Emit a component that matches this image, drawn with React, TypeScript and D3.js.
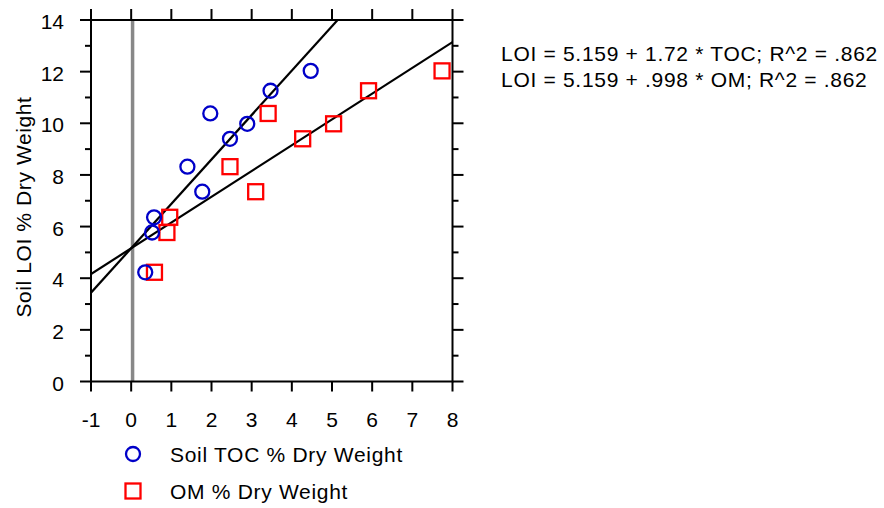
import React from 'react';
import * as d3 from 'd3';

// soil samples
const tocValues = [0.35, 0.52, 0.57, 1.4, 1.77, 1.97, 2.46, 2.89, 3.47, 4.47];
const omValues = [0.58, 0.89, 0.96, 2.46, 3.1, 3.41, 4.27, 5.04, 5.91, 7.74];
const loiValues = [4.23, 5.77, 6.36, 8.32, 7.35, 10.38, 9.4, 9.98, 11.26, 12.03];

const intercept = 5.159;
const tocSlope = 1.72;
const omSlope = 0.998;
const zeroLineX = 0.035;

const xTicks = [-1, 0, 1, 2, 3, 4, 5, 6, 7, 8];
const yTicks = [0, 2, 4, 6, 8, 10, 12, 14];
const yMinorTicks = [1, 3, 5, 7, 9, 11, 13];

const equations = [
  'LOI = 5.159 + 1.72 * TOC; R^2 = .862',
  'LOI = 5.159 + .998 * OM; R^2 = .862',
];
const legendLabels = ['Soil TOC % Dry Weight', 'OM % Dry Weight'];

const W = 884, H = 508;
const left = 91, right = 452.5, top = 20, bottom = 381.5;
const BLUE = '#0000c8';
const RED = '#ff0000';
const FONT = '"Liberation Sans", Arial, sans-serif';

export default function App() {
  const x = d3.scaleLinear().domain([-1, 8]).range([left, right]);
  const y = d3.scaleLinear().domain([0, 14]).range([bottom, top]);

  const fitLine = (slope: number) => {
    const xs = [-1, 8];
    return d3.line<number>()
      .x(v => x(v))
      .y(v => y(intercept + slope * v))(xs) as string;
  };

  return (
    <svg width={W} height={H} style={{ position: 'absolute', left: 0, top: 0, background: '#fff' }}
      fontFamily={FONT}>
      <defs>
        <clipPath id="plot-clip">
          <rect x={left} y={top} width={right - left} height={bottom - top} />
        </clipPath>
      </defs>

      {/* zero line */}
      <line x1={x(zeroLineX)} x2={x(zeroLineX)} y1={top} y2={bottom} stroke="#888" strokeWidth={3.5} />

      {/* regression lines */}
      <g clipPath="url(#plot-clip)" fill="none" stroke="#000" strokeWidth={2.2}>
        <path d={fitLine(tocSlope)} />
        <path d={fitLine(omSlope)} />
      </g>

      {/* OM squares */}
      {omValues.map((v, i) => (
        <rect key={'s' + i} x={x(v) - 7.5} y={y(loiValues[i]) - 7.5} width={15} height={15}
          fill="none" stroke={RED} strokeWidth={2.3} />
      ))}
      {/* TOC circles */}
      {tocValues.map((v, i) => (
        <circle key={'c' + i} cx={x(v)} cy={y(loiValues[i])} r={7}
          fill="none" stroke={BLUE} strokeWidth={2.3} />
      ))}

      {/* frame */}
      <rect x={left} y={top} width={right - left} height={bottom - top} fill="none" stroke="#000" strokeWidth={2} />

      {/* ticks */}
      <g stroke="#000" strokeWidth={2}>
        {xTicks.map(t => (
          <g key={'xt' + t}>
            <line x1={x(t)} x2={x(t)} y1={bottom} y2={bottom + 10} />
            <line x1={x(t)} x2={x(t)} y1={top} y2={top - 11} />
          </g>
        ))}
        {yTicks.map(t => (
          <g key={'yt' + t}>
            <line x1={left - 11} x2={left} y1={y(t)} y2={y(t)} />
            <line x1={right} x2={right + 11} y1={y(t)} y2={y(t)} />
          </g>
        ))}
        {yMinorTicks.map(t => (
          <g key={'ym' + t}>
            <line x1={left - 6} x2={left} y1={y(t)} y2={y(t)} />
            <line x1={right} x2={right + 6} y1={y(t)} y2={y(t)} />
          </g>
        ))}
      </g>

      {/* tick labels */}
      <g fontSize={21} fill="#000">
        {xTicks.map(t => (
          <text key={'xl' + t} x={x(t)} y={427} textAnchor="middle">{t}</text>
        ))}
        {yTicks.map(t => (
          <text key={'yl' + t} x={64} y={y(t) + 9} textAnchor="end">{t}</text>
        ))}
      </g>

      <text transform="translate(31,207) rotate(-90)" textAnchor="middle" fontSize={21} letterSpacing={0.6}>
        Soil LOI % Dry Weight
      </text>

      {/* equations */}
      {equations.map((e, i) => (
        <text key={e} x={501} y={60.5 + i * 26} fontSize={21} letterSpacing={0.7}>{e}</text>
      ))}

      {/* legend */}
      <circle cx={133} cy={454} r={7} fill="none" stroke={BLUE} strokeWidth={2.3} />
      <text x={170} y={462} fontSize={21} letterSpacing={0.7}>{legendLabels[0]}</text>
      <rect x={125.5} y={483.5} width={15} height={15} fill="none" stroke={RED} strokeWidth={2.3} />
      <text x={170} y={498.5} fontSize={21} letterSpacing={0.7}>{legendLabels[1]}</text>
    </svg>
  );
}
